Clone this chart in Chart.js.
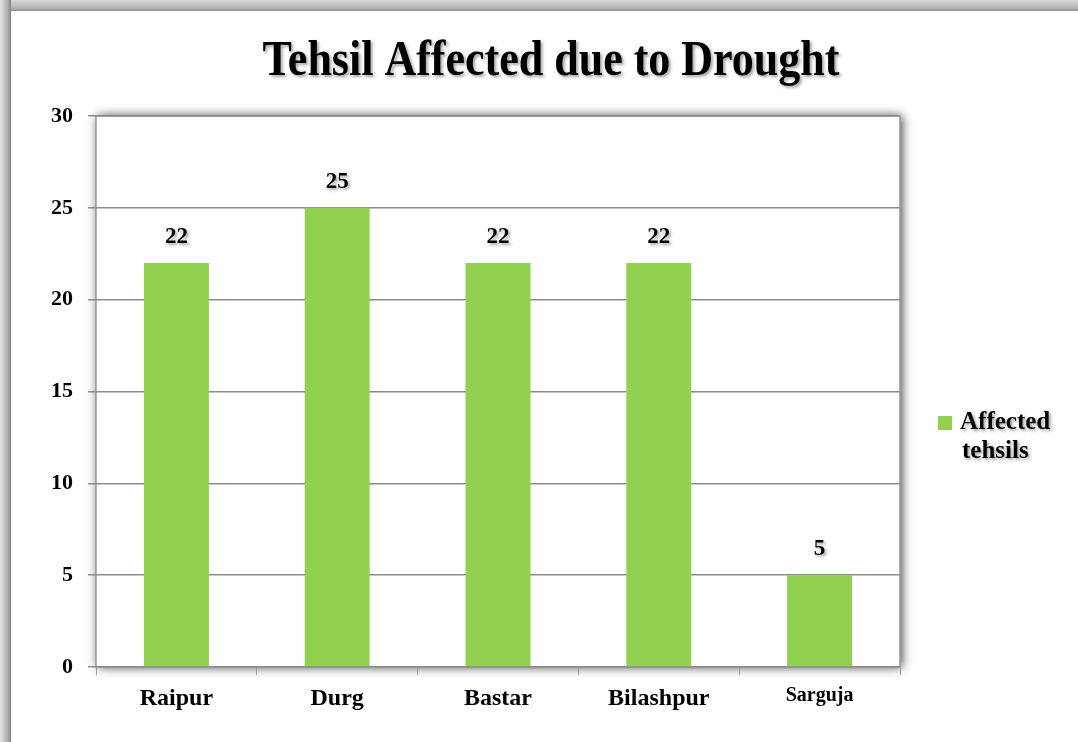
<!DOCTYPE html>
<html>
<head>
<meta charset="utf-8">
<script src="https://cdn.jsdelivr.net/npm/chart.js@4.4.1/dist/chart.umd.min.js"></script>
<style>
html,body{margin:0;padding:0;background:#fff;}
#wrap{width:1078px;height:742px;position:relative;}
</style>
</head>
<body>
<div id="wrap"><canvas id="c" width="1078" height="742"></canvas></div>
<script>
const titleText = 'Tehsil Affected due to Drought';
const categories = ['Raipur', 'Durg', 'Bastar', 'Bilashpur', 'Sarguja'];
const seriesName = ['Affected', 'tehsils'];
const affected = [22, 25, 22, 22, 5];
const yTicks = [0, 5, 10, 15, 20, 25, 30];

const SERIF = '"Liberation Serif", "Times New Roman", serif';
const GREEN = '#92D050';

function shadowText(ctx) {
  ctx.shadowColor = 'rgba(0,0,0,0.35)';
  ctx.shadowBlur = 3;
  ctx.shadowOffsetX = 2;
  ctx.shadowOffsetY = 2;
}

const framePlugin = {
  id: 'frame',
  beforeDraw(chart) {
    const ctx = chart.ctx;
    ctx.save();
    let g = ctx.createLinearGradient(0, 0, 0, 11);
    g.addColorStop(0, '#d8d8d8');
    g.addColorStop(0.8, '#b0b0b0');
    g.addColorStop(1, '#8a8a8a');
    ctx.fillStyle = g;
    ctx.fillRect(0, 0, chart.width, 11);
    g = ctx.createLinearGradient(0, 0, 11, 0);
    g.addColorStop(0, '#e6e6e6');
    g.addColorStop(0.75, '#a8a8a8');
    g.addColorStop(1, '#808080');
    ctx.fillStyle = g;
    ctx.fillRect(0, 0, 11, chart.height);
    const a = chart.chartArea;
    ctx.shadowColor = 'rgba(0,0,0,0.75)';
    ctx.shadowBlur = 10;
    ctx.shadowOffsetX = 2;
    ctx.shadowOffsetY = 0;
    ctx.fillStyle = '#fff';
    ctx.fillRect(a.left, a.top, a.right - a.left, a.bottom - a.top);
    ctx.shadowColor = 'transparent';
    ctx.strokeStyle = '#9a9a9a';
    ctx.lineWidth = 1.5;
    ctx.strokeRect(a.left, a.top, a.right - a.left, a.bottom - a.top);
    // title (centred over the whole slide, condensed like the original)
    ctx.font = 'bold 50px ' + SERIF;
    ctx.fillStyle = '#000';
    ctx.textAlign = 'center';
    ctx.textBaseline = 'alphabetic';
    shadowText(ctx);
    ctx.translate(551, 75);
    ctx.scale(0.88, 1);
    ctx.fillText(titleText, 0, 0);
    ctx.restore();
  }
};

const labelPlugin = {
  id: 'valueLabels',
  afterDatasetsDraw(chart) {
    const ctx = chart.ctx;
    const meta = chart.getDatasetMeta(0);
    ctx.save();
    ctx.font = 'bold 23px ' + SERIF;
    ctx.fillStyle = '#000';
    ctx.textAlign = 'center';
    ctx.textBaseline = 'middle';
    shadowText(ctx);
    meta.data.forEach((bar, i) => {
      ctx.fillText(String(chart.data.datasets[0].data[i]), bar.x, bar.y - 26);
    });
    ctx.restore();
  }
};

const legendPlugin = {
  id: 'sideLegend',
  afterDraw(chart) {
    const ctx = chart.ctx;
    const a = chart.chartArea;
    const x = a.right + 38;
    const y = 423;
    ctx.save();
    ctx.fillStyle = chart.data.datasets[0].backgroundColor;
    ctx.fillRect(x, y - 7, 14, 14);
    ctx.font = 'bold 25px ' + SERIF;
    ctx.fillStyle = '#000';
    ctx.textAlign = 'left';
    ctx.textBaseline = 'middle';
    shadowText(ctx);
    const lines = chart.data.datasets[0].label;
    lines.forEach((t, i) => ctx.fillText(t, x + 22 + (i ? 2 : 0), y + i * 29));
    ctx.restore();
  }
};

new Chart(document.getElementById('c'), {
  type: 'bar',
  data: {
    labels: categories,
    datasets: [{
      label: seriesName,
      data: affected,
      backgroundColor: GREEN,
      borderWidth: 0,
      categoryPercentage: 1,
      barPercentage: 0.404
    }]
  },
  options: {
    responsive: false,
    animation: false,
    devicePixelRatio: 1,
    layout: { padding: { left: 0, right: 178, top: 116, bottom: 0 } },
    plugins: {
      legend: { display: false },
      tooltip: { enabled: false },
      title: { display: false }
    },
    scales: {
      x: {
        grid: { display: true, drawOnChartArea: false, drawTicks: true, tickLength: 8, color: '#9a9a9a', offset: true },
        border: { display: false },
        ticks: {
          color: '#000',
          padding: 9,
          maxRotation: 0,
          font: (c) => c.index === 4
            ? { family: SERIF, size: 20, weight: 'bold' }
            : { family: SERIF, size: 24, weight: 'bold' }
        },
        afterFit(scale) { scale.height = 75; }
      },
      y: {
        min: 0,
        max: 30,
        afterBuildTicks(scale) { scale.ticks = yTicks.map(v => ({ value: v })); },
        grid: { color: '#8c8c8c', lineWidth: 1.5, tickLength: 8 },
        border: { display: false },
        ticks: {
          color: '#000',
          padding: 15,
          font: { family: SERIF, size: 22, weight: 'bold' }
        },
        afterFit(scale) { scale.width = 96; }
      }
    }
  },
  plugins: [framePlugin, labelPlugin, legendPlugin]
});
</script>
</body>
</html>
